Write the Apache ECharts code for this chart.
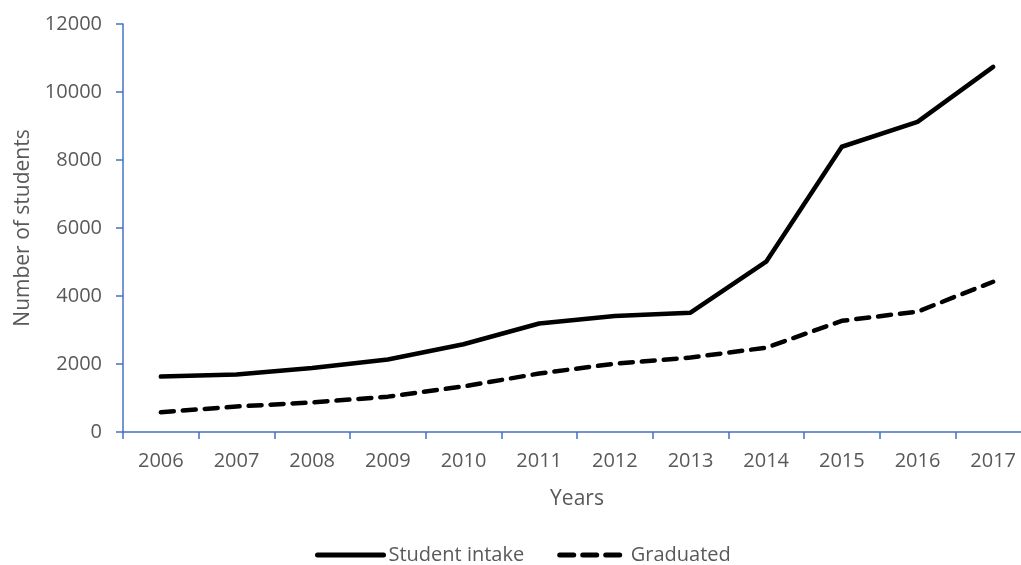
<!DOCTYPE html>
<html><head><meta charset="utf-8">
<script src="https://cdn.jsdelivr.net/npm/echarts@6/dist/echarts.min.js"></script>
<style>html,body{margin:0;padding:0;background:#fff;overflow:hidden;width:1021px;height:565px}#c{width:1031px;height:565px}</style>
</head><body><div id="c"></div>
<script>
const years = ['2006','2007','2008','2009','2010','2011','2012','2013','2014','2015','2016','2017'];
const studentIntake = [1630, 1690, 1880, 2130, 2580, 3190, 3410, 3510, 5010, 8390, 9120, 10740];
const graduated = [580, 750, 870, 1040, 1340, 1720, 2010, 2190, 2480, 3270, 3540, 4420];
const yTicks = [0, 2000, 4000, 6000, 8000, 10000, 12000];

const FONT = 'Open Sans';
const GREY = '#595959';
const AXIS = '#4472C4';
const chart = echarts.init(document.getElementById('c'));
chart.setOption({
  animation: false,
  textStyle: { fontFamily: FONT },
  grid: { left: 123, top: 24, bottom: 133, right: 0 },
  legend: {
    left: 310, top: 540,
    itemWidth: 66, itemHeight: 14, itemGap: 33,
    itemStyle: { opacity: 0 },
    textStyle: { fontFamily: FONT, fontSize: 20, color: GREY },
    data: [
      { name: 'Student intake', lineStyle: { width: 5, color: '#000', cap: 'round' } },
      { name: 'Graduated', lineStyle: { width: 5, color: '#000', type: [14, 9], cap: 'round' } }
    ]
  },
  xAxis: {
    type: 'category', data: years, boundaryGap: true,
    name: 'Years', nameLocation: 'middle', nameGap: 57,
    nameTextStyle: { fontFamily: FONT, fontSize: 21, color: GREY },
    axisLine: { lineStyle: { color: AXIS, width: 1.5 } },
    axisTick: { show: true, length: 7, lineStyle: { color: AXIS, width: 1.5 } },
    axisLabel: { fontFamily: FONT, fontSize: 20, color: GREY, margin: 19 },
    splitLine: { show: false }
  },
  yAxis: {
    type: 'value', min: yTicks[0], max: yTicks[yTicks.length - 1], interval: 2000,
    name: 'Number of students', nameLocation: 'middle', nameGap: 88,
    nameTextStyle: { fontFamily: FONT, fontSize: 21, color: GREY },
    axisLine: { show: true, lineStyle: { color: AXIS, width: 1.5 } },
    axisTick: { show: true, length: 7, lineStyle: { color: AXIS, width: 1.5 } },
    axisLabel: { fontFamily: FONT, fontSize: 20, color: GREY, margin: 21, formatter: v => String(v) },
    splitLine: { show: false }
  },
  series: [
    { name: 'Student intake', type: 'line', data: studentIntake, symbol: 'none',
      lineStyle: { color: '#000', width: 4.5, cap: 'round', join: 'round' },
      itemStyle: { color: '#000' } },
    { name: 'Graduated', type: 'line', data: graduated, symbol: 'none',
      lineStyle: { color: '#000', width: 4.5, type: [13, 9], cap: 'round', join: 'round' },
      itemStyle: { color: '#000' } }
  ]
});
</script></body></html>
